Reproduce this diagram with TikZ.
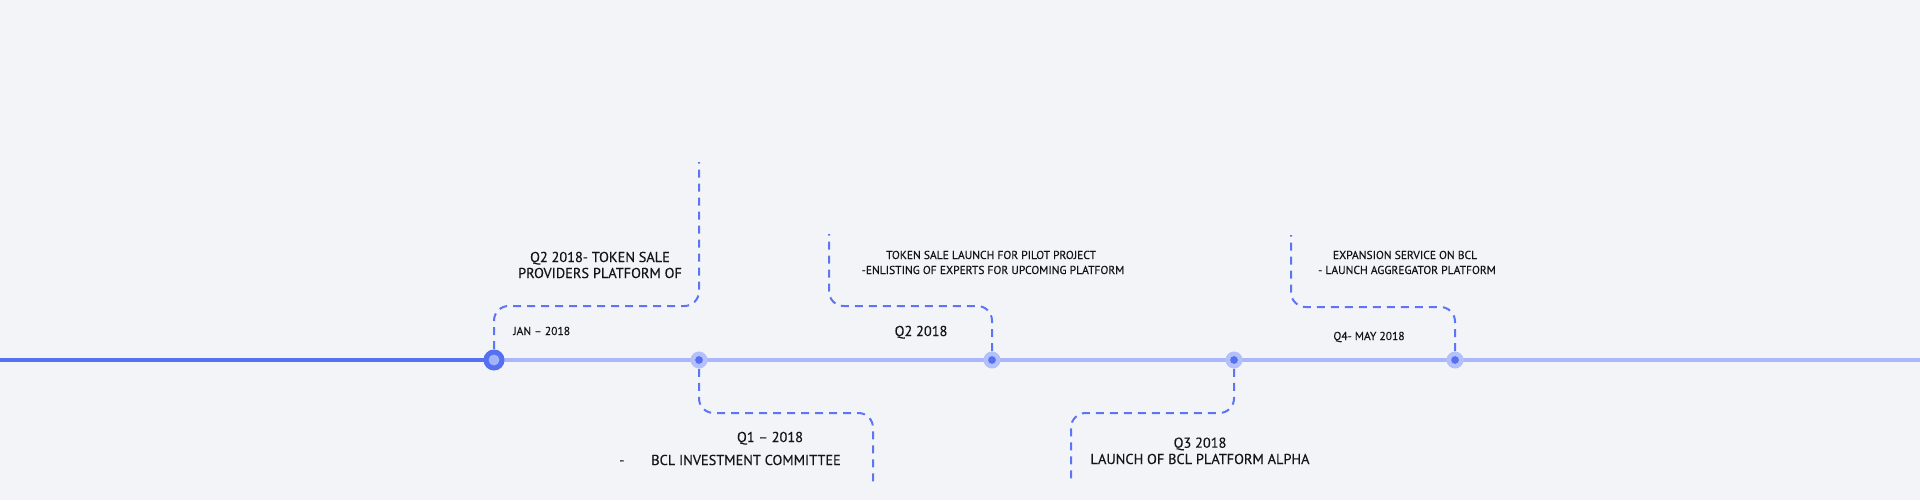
\documentclass[tikz,border=0pt]{standalone}
\usepackage{fontspec}
\setmainfont{PT Sans}
\newfontfamily\lblfont{PT Sans}[FakeBold=0.3]
\definecolor{bgc}{HTML}{F3F4F8}
\definecolor{blu}{HTML}{5570F1}
\definecolor{lblu}{HTML}{AAB8FB}
\definecolor{halc}{HTML}{B4C0FB}
\definecolor{inn}{HTML}{A4B4FB}
\definecolor{dsh}{HTML}{5D75F4}
\definecolor{txt}{HTML}{151515}
\begin{document}
\begin{tikzpicture}[x=0.75pt,y=-0.75pt,
  bigdot/.style={circle,fill=blu,minimum size=15.8pt,inner sep=0pt},
  bigin/.style={circle,fill=inn,minimum size=8.2pt,inner sep=0pt},
  halo/.style={circle,fill=halc,minimum size=12.8pt,inner sep=0pt},
  smalldot/.style={circle,fill=blu,minimum size=5.8pt,inner sep=0pt},
  conn/.style={draw=dsh,line width=1.5pt,dash pattern=on 6pt off 4.5pt,rounded corners=11pt},
  big/.style={text=txt,font=\lblfont\fontsize{10.75pt}{12.5pt}\selectfont,inner sep=0pt,anchor=base},
  sml/.style={text=txt,font=\lblfont\fontsize{8.65pt}{11.2pt}\selectfont,inner sep=0pt,anchor=base},
]
\useasboundingbox (0,0) rectangle (1920,500);
\fill[bgc] (0,0) rectangle (1920,500);
% lines
\draw[lblu,line width=2.6pt] (494,360) -- (1920,360);
\draw[blu,line width=3pt] (0,360) -- (494,360);
% nodes
\node[bigdot] (n0) at (494,360) {};
\node[bigin] (n0i) at (n0) {};
\node[halo] (n1) at (699,360) {};
\node[smalldot] (n1i) at (n1) {};
\node[halo] (n2) at (992,360) {};
\node[smalldot] (n2i) at (n2) {};
\node[halo] (n3) at (1234,360) {};
\node[smalldot] (n3i) at (n3) {};
\node[halo] (n4) at (1455,360) {};
\node[smalldot] (n4i) at (n4) {};
% connector ends
\coordinate (e0) at (699,162);
\coordinate (e1) at (873,485);
\coordinate (e2) at (829,234);
\coordinate (e3) at (1071,484);
\coordinate (e4) at (1291,235);
\draw[conn] (n0.north) -- (494,306) -- (699,306) -- (e0);
\draw[conn] (n1.south) -- (699,413) -- (873,413) -- (e1);
\draw[conn] (n2.north) -- (992,306) -- (829,306) -- (e2);
\draw[conn] (n3.south) -- (1234,413) -- (1071,413) -- (e3);
\draw[conn] (n4.north) -- (1455,307) -- (1291,307) -- (e4);
% labels
\node[big] (t0a) at (600,262) {Q2 2018- TOKEN SALE};
\node[big] (t0b) at (600,278) {PROVIDERS PLATFORM OF};
\node[sml,anchor=base west] (t0c) at (513,335) {JAN – 2018};
\node[sml] (t2a) at (991,259) {TOKEN SALE LAUNCH FOR PILOT PROJECT};
\node[sml] (t2b) at (993,274) {-ENLISTING OF EXPERTS FOR UPCOMING PLATFORM};
\node[big] (t2c) at (921,336) {Q2 2018};
\node[sml] (t4a) at (1405,259) {EXPANSION SERVICE ON BCL};
\node[sml] (t4b) at (1407,274) {- LAUNCH AGGREGATOR PLATFORM};
\node[sml] (t4c) at (1369,340) {Q4- MAY 2018};
\node[big] (t1a) at (770,442) {Q1 – 2018};
\node[big,anchor=base west] (t1b) at (619,465) {\makebox[24pt][l]{-}BCL INVESTMENT COMMITTEE};
\node[big] (t3a) at (1200,447.7) {Q3 2018};
\node[big] (t3b) at (1200,464) {LAUNCH OF BCL PLATFORM ALPHA};
\end{tikzpicture}
\end{document}
